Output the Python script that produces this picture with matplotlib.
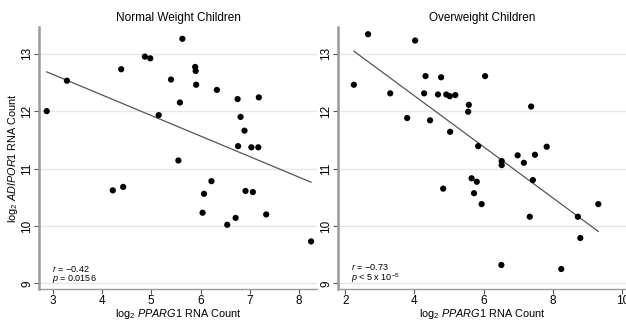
import matplotlib
matplotlib.use("Agg")
import matplotlib.pyplot as plt
import numpy as np

plt.rcParams['font.family'] = ['Liberation Sans', 'DejaVu Sans']
plt.rcParams['mathtext.fontset'] = 'custom'
plt.rcParams['mathtext.rm'] = 'Liberation Sans'
plt.rcParams['mathtext.it'] = 'Liberation Sans:italic'

# log2 PPARG1 / log2 ADIPOR1, normal weight children
normal_x = [2.88, 3.29, 4.39, 4.87, 4.98, 5.63, 5.40, 5.89, 5.90, 5.91, 5.58,
            5.15, 6.33, 6.75, 7.18, 6.81, 6.89, 6.76, 7.03, 7.17, 5.55, 4.22,
            4.43, 6.22, 6.07, 6.04, 6.91, 7.06, 6.54, 6.71, 7.33, 8.24]
normal_y = [12.00, 12.53, 12.73, 12.95, 12.92, 13.26, 12.55, 12.77, 12.70, 12.46, 12.15,
            11.93, 12.37, 12.21, 12.24, 11.90, 11.66, 11.39, 11.37, 11.37, 11.14, 10.62,
            10.68, 10.78, 10.56, 10.23, 10.61, 10.59, 10.02, 10.14, 10.20, 9.73]

# overweight children
over_x = [2.25, 2.66, 3.30, 4.02, 3.79, 4.32, 4.28, 4.45, 4.77, 4.68, 4.92, 5.02,
          5.18, 5.03, 5.57, 5.55, 6.04, 5.84, 7.37, 7.82, 6.98, 7.48, 6.52, 6.52,
          7.16, 4.83, 5.65, 5.80, 5.72, 5.94, 7.42, 7.33, 9.31, 8.72, 8.79, 6.51, 8.24]
over_y = [12.46, 13.34, 12.31, 13.23, 11.88, 12.61, 12.31, 11.84, 12.59, 12.29, 12.29, 12.26,
          12.28, 11.64, 12.11, 11.99, 12.61, 11.39, 12.08, 11.38, 11.23, 11.24, 11.13, 11.06,
          11.10, 10.65, 10.83, 10.77, 10.57, 10.38, 10.80, 10.16, 10.38, 10.16, 9.79, 9.32, 9.25]

panels = [
    ("Normal Weight Children", normal_x, normal_y, (2.73, 8.36), [3, 4, 5, 6, 7, 8],
     "$r$ = \u22120.42\n$p$ = 0.0156"),
    ("Overweight Children", over_x, over_y, (1.80, 10.11), [2, 4, 6, 8, 10],
     "$r$ = \u22120.73\n$p$ < 5 x 10$^{-5}$"),
]

fig = plt.figure(figsize=(6.26, 3.2), dpi=100)
boxes = [[0.0628, 0.0984, 0.4436, 0.818], [0.5404, 0.0984, 0.4596, 0.818]]
axis_grey = '#9a9a9a'

for i, (title, xs, ys, xlim, xticks, note) in enumerate(panels):
    ax = fig.add_axes(boxes[i])
    ax.set_xlim(*xlim)
    ax.set_ylim(8.91, 13.47)
    ax.set_xticks(xticks)
    ax.set_yticks([9, 10, 11, 12, 13])
    ax.grid(axis='y', color='#e8e8e8', linewidth=1.0)
    ax.set_axisbelow(True)

    xs = np.array(xs)
    ys = np.array(ys)
    slope, icpt = np.polyfit(xs, ys, 1)
    fx = np.array([xs.min(), xs.max()])
    ax.plot(fx, slope * fx + icpt, color='#555555', linewidth=0.9, zorder=2)
    ax.scatter(xs, ys, s=20, color='black', edgecolors='none', zorder=3)

    for side in ['top', 'right']:
        ax.spines[side].set_visible(False)
    ax.spines['left'].set_color(axis_grey)
    ax.spines['left'].set_linewidth(1.8)
    ax.spines['bottom'].set_color(axis_grey)
    ax.spines['bottom'].set_linewidth(1.0)
    ax.tick_params(axis='both', colors='#555555', labelcolor='black',
                   labelsize=8.5, length=3.5, width=0.8, pad=1)
    for lab in ax.get_yticklabels():
        lab.set_rotation(90)
        lab.set_va('center')

    ax.set_title(title, fontsize=8.5, pad=4.5)
    ax.set_xlabel(r'log$_2$ $\mathit{PPARG1}$ RNA Count', fontsize=7.8, labelpad=0)
    if i == 0:
        ax.set_ylabel(r'log$_2$ $\mathit{ADIPOR1}$ RNA Count', fontsize=7.8, labelpad=1)
    ax.text(0.045, 0.012, note, transform=ax.transAxes, fontsize=6.5,
            va='bottom', ha='left', linespacing=0.95)

fig.savefig('out.png', dpi=100)
